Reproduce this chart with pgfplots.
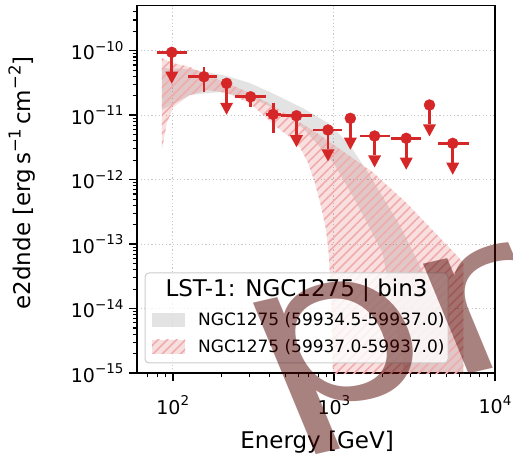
\documentclass[border=0pt]{standalone}
\usepackage{pgfplots}
\pgfplotsset{compat=1.18}
\usepackage{fontspec}
\setmainfont{DejaVu Sans}
\usetikzlibrary{patterns.meta}
\definecolor{tabred}{RGB}{214,39,40}
\definecolor{hatch}{RGB}{240,172,172}
\definecolor{wm}{RGB}{80,5,0}
\newcommand\tl[1]{10\raisebox{0.45em}{\fontsize{13.5bp}{14bp}\selectfont #1}}
\newcommand\sups[1]{\raisebox{0.45em}{\fontsize{16.5bp}{17bp}\selectfont #1}}
\pgfdeclareplotmark{cdb}{%
  \pgfpathmoveto{\pgfqpoint{-6.5bp}{0bp}}%
  \pgfpathlineto{\pgfqpoint{6.5bp}{0bp}}%
  \pgfpathlineto{\pgfqpoint{0bp}{-12bp}}%
  \pgfpathclose\pgfusepathqfill}
\begin{document}
\begin{tikzpicture}[x=1bp,y=1bp]
\begin{axis}[
  at={(137bp,88bp)}, anchor=south west,
  scale only axis, width=358bp, height=367.3bp,
  xmode=log, ymode=log,
  xmin=60, xmax=10000, ymin=1e-15, ymax=5e-10,
  axis line style={line width=1.5bp},
  tick align=outside, xtick pos=bottom, ytick pos=left,
  major tick length=8bp, minor tick length=4.5bp,
  major tick style={line width=1.5bp, black},
  minor tick style={line width=1.1bp, black},
  xtick={100,1000,10000},
  xticklabels={\tl{2},\tl{3},\tl{4}},
  ytick={1e-15,1e-14,1e-13,1e-12,1e-11,1e-10},
  yticklabels={\tl{−15},\tl{−14},\tl{−13},\tl{−12},\tl{−11},\tl{−10}},
  minor xtick={70,80,90,200,300,400,500,600,700,800,900,2000,3000,4000,5000,6000,7000,8000,9000},
  minor ytick={2e-15,3e-15,4e-15,5e-15,6e-15,7e-15,8e-15,9e-15,
    2e-14,3e-14,4e-14,5e-14,6e-14,7e-14,8e-14,9e-14,
    2e-13,3e-13,4e-13,5e-13,6e-13,7e-13,8e-13,9e-13,
    2e-12,3e-12,4e-12,5e-12,6e-12,7e-12,8e-12,9e-12,
    2e-11,3e-11,4e-11,5e-11,6e-11,7e-11,8e-11,9e-11,
    2e-10,3e-10,4e-10},
  tick label style={font=\fontsize{19bp}{22bp}\selectfont},
  xticklabel style={yshift=-11bp},
  yticklabel style={xshift=-2bp},
  grid=major,
  major grid style={line width=1bp, gray!45, dash pattern=on 1.2bp off 2.4bp},
]
% grey band (59934.5-59937.0)
\addplot[draw=none, fill=black, fill opacity=0.11] coordinates {
(85.5,5.39e-11) (128,5.2e-11) (163.1,4.67e-11) (216.9,4.05e-11) (301.1,3.15e-11)
(400.4,2.29e-11) (641,1.29e-11) (941.9,7.29e-12) (1252.5,3.44e-12) (1666,1.18e-12)
(2555,1.98e-13) (3920,2.32e-14) (5598,3.25e-15) (6363,1.59e-15) (6363,1e-17)
(2900,1e-17) (2744,1e-15) (2005,7.27e-14) (1384,4.34e-13) (1011.6,1.685e-12)
(852.5,2.88e-12) (641,6.32e-12) (461.7,1.2e-11) (301.1,1.845e-11) (196.3,2.29e-11)
(128,2.06e-11) (85.5,1.2e-11)} -- cycle;
% red band (59937.0-59937.0)
\addplot[draw=none, fill=tabred, fill opacity=0.15, postaction={pattern={Lines[angle=45,distance=6.5bp,line width=1.6bp]}, pattern color=hatch}] coordinates {
(85.5,7.7e-11) (100.4,6.44e-11) (128,5.59e-11) (163.1,4.2e-11) (216.9,3.15e-11)
(301.1,2.21e-11) (400.4,1.49e-11) (580,8.41e-12) (782.5,5.29e-12) (1041,3.21e-12)
(1739,1.31e-12) (2824,4.34e-13) (4091,1.65e-13) (5760,6.76e-14) (6363,5.08e-14)
(6363,1e-17) (990,1e-17) (983,1e-15) (976,3.25e-15) (955.4,1.94e-14) (928.7,7.27e-14)
(889.8,1.776e-13) (828.5,4.04e-13) (760.6,9.18e-13) (688.5,1.876e-12) (614,3.21e-12)
(532.5,4.58e-12) (442.4,6.55e-12) (301.1,1.54e-11) (216.9,2.21e-11) (163.1,2.46e-11)
(128,2.06e-11) (100.9,1.34e-11) (91.8,7.56e-12) (85.5,2.88e-12)} -- cycle;
% upper limits
\addplot[tabred, only marks, mark=*, mark size=5.5bp, mark options={line width=0.4bp},
  error bars/.cd, x dir=both, x explicit, y dir=minus, y explicit,
  error mark=none, error bar style={line width=2.8bp, tabred}]
coordinates {
(98.6,9.45e-11) += (24.6,0) -= (19.0,4.725e-11)
(215.8,3.12e-11) += (12.7,0) -= (11.8,1.56e-11)
(586,9.8e-12) += (150,0) -= (113,4.9e-12)
(919,5.89e-12) += (210,0) -= (177,2.945e-12)
(1265,8.94e-12) += (75,0) -= (70,4.47e-12)
(1789,4.75e-12) += (450,0) -= (344,2.375e-12)
(2812,4.38e-12) += (670,0) -= (542,2.19e-12)
(3920,1.44e-11) += (228,0) -= (219,7.2e-12)
(5464,3.66e-12) += (1399,0) -= (1052,1.83e-12)
};
\addplot[tabred, only marks, mark=cdb] coordinates {
(98.6,4.725e-11) (215.8,1.56e-11) (586,4.9e-12) (919,2.945e-12) (1265,4.47e-12)
(1789,2.375e-12) (2812,2.19e-12) (3920,7.2e-12) (5464,1.83e-12)
};
% detections
\addplot[tabred, only marks, mark=*, mark size=5.5bp, mark options={line width=0.4bp},
  error bars/.cd, x dir=both, x explicit, y dir=both, y explicit,
  error mark=none, error bar style={line width=2.8bp, tabred}]
coordinates {
(156.2,3.95e-11) += (32.8,1.70e-11) -= (31.2,1.64e-11)
(304,1.93e-11) += (74,0.25e-11) -= (61,0.58e-11)
(419.7,1.03e-11) += (48.3,0.5e-11) -= (41.7,0.507e-11)
};
\end{axis}
% axis labels
\node[font=\fontsize{23bp}{26bp}\selectfont] at (317,19.3) {Energy [GeV]};
\node[rotate=90, font=\fontsize{23bp}{26bp}\selectfont] at (22,278) {e2dnde [erg\,s\sups{−1}\,cm\sups{−2}]};
% legend
\draw[rounded corners=4bp, draw=black!20, fill=white, fill opacity=0.8, line width=1bp] (145,98) rectangle (448,188);
\node[font=\fontsize{23bp}{26bp}\selectfont] at (296.5,171) {LST-1: NGC1275 | bin3};
\fill[black, fill opacity=0.11] (152,134) rectangle (185,148);
\node[anchor=west, inner sep=0, font=\fontsize{17bp}{20bp}\selectfont] at (198,141) {NGC1275 (59934.5-59937.0)};
\fill[tabred, fill opacity=0.15, postaction={pattern={Lines[angle=45,distance=6.5bp,line width=1.6bp]}, pattern color=hatch}] (152,107) rectangle (185,121);
\node[anchor=west, inner sep=0, font=\fontsize{17bp}{20bp}\selectfont] at (198,114) {NGC1275 (59937.0-59937.0)};
% watermark
\begin{scope}[shift={(274,42)}, xscale=1.34]
\node[rotate=17.2, transform shape, anchor=base west, inner sep=0, text=wm, text opacity=0.5, font=\fontsize{210bp}{210bp}\selectfont] at (0,0) {preliminary};
\end{scope}
\pgfresetboundingbox
\path[use as bounding box] (0,0) rectangle (513,461);
\end{tikzpicture}
\end{document}
